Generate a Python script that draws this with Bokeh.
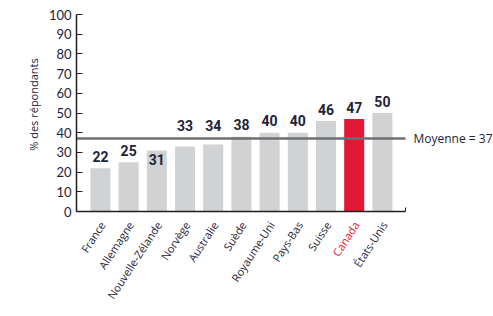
import math
from bokeh.plotting import figure
from bokeh.models import ColumnDataSource, LabelSet, Label, FixedTicker, LinearAxis
from bokeh.core.properties import value
from bokeh.embed import file_html
from bokeh.resources import INLINE

# Share of respondents by country
countries = ["France", "Allemagne", "Nouvelle-Zélande", "Norvège", "Australie",
             "Suède", "Royaume-Uni", "Pays-Bas", "Suisse", "Canada", "États-Unis"]
percent = [22, 25, 31, 33, 34, 38, 40, 40, 46, 47, 50]
highlight = "Canada"
mean_value = 37
y_ticks = [0, 10, 20, 30, 40, 50, 60, 70, 80, 90, 100]

GREY = "#d1d2d4"
RED = "#e31837"
INK = "#1f2337"
LINE = "#6d6e71"
AXIS = "#231f20"

# Canvas layout (pixels) — the frame fills the whole canvas so that the
# rotated country names and side notes can sit outside the axes.
W, H = 493, 316
LEFT_PX, RIGHT_PX, ZERO_PX, TOP_PX = 76, 405, 211, 14
x_lo, x_hi = -0.85, len(countries) - 1 + 0.82          # extent of the x axis
sx = (RIGHT_PX - LEFT_PX) / (x_hi - x_lo)
sy = (ZERO_PX - TOP_PX) / 100.0
x_range = (x_lo - LEFT_PX / sx, x_hi + (W - RIGHT_PX) / sx)
y_range = (-(H - ZERO_PX) / sy, 100 + TOP_PX / sy)

xs = list(range(len(countries)))
bar_colors = [RED if c == highlight else GREY for c in countries]
label_colors = [RED if c == highlight else INK for c in countries]

# Value labels: placed above the bar, but kept clear of the mean line
label_y = []
for v in percent:
    centre = v + 6
    if abs(centre - mean_value) < 4.5:
        centre = v - 4.6 if v < mean_value - 5 else mean_value + 6.6
    label_y.append(centre)

src = ColumnDataSource(dict(x=xs, top=percent, color=bar_colors, cat=countries,
                            lcolor=label_colors, ly=label_y,
                            txt=[str(v) for v in percent]))

p = figure(width=W, height=H, output_backend="svg", toolbar_location=None,
           x_range=x_range, y_range=y_range, min_border=0,
           x_axis_location=None, y_axis_location=None)
p.outline_line_color = None
p.grid.visible = False
p.background_fill_color = "white"

p.vbar(x="x", top="top", width=0.71, source=src, fill_color="color", line_color=None)

# Mean line across the plotting area
p.segment(x0=[x_lo], x1=[x_hi], y0=[mean_value], y1=[mean_value],
          line_color=LINE, line_width=2.5)
p.add_layout(Label(x=x_hi, y=mean_value, x_offset=8, text=f"Moyenne = {mean_value}",
                   text_baseline="middle", text_font="Open Sans", text_font_size="12px",
                   text_color=INK))

p.add_layout(LabelSet(x="x", y="ly", text="txt", source=src, text_align="center",
                      text_baseline="middle", text_color=INK, text_font_style="bold",
                      text_font=value("Roboto"), text_font_size="14px"))

p.add_layout(LabelSet(x="x", y=0, text="cat", source=src, text_align="right",
                      text_baseline="middle", text_color="lcolor", angle=math.radians(57),
                      x_offset=2, y_offset=-11, text_font=value("Open Sans"),
                      text_font_size="11px"))

# Y axis title
p.add_layout(Label(x=x_lo - (LEFT_PX - 33) / sx, y=(ZERO_PX - 104) / sy,
                   text="% des répondants", angle=math.pi / 2, text_align="center",
                   text_baseline="middle", text_font="Open Sans", text_font_size="11px",
                   text_color=INK))

yax = LinearAxis(fixed_location=x_lo, bounds=(0, 100), ticker=FixedTicker(ticks=y_ticks))
yax.major_label_text_font = "Lato"
yax.major_label_text_font_size = "13px"
yax.major_label_text_color = INK
yax.major_label_standoff = 5
yax.major_tick_in = 6
yax.major_tick_out = 0
yax.minor_tick_line_color = None
yax.axis_line_color = AXIS
yax.major_tick_line_color = AXIS
yax.axis_line_width = 1.5
p.add_layout(yax, "left")

xax = LinearAxis(fixed_location=0, bounds=(x_lo, x_hi), ticker=FixedTicker(ticks=[x_hi]))
xax.major_label_text_font_size = "0px"
xax.major_label_text_color = None
xax.major_tick_in = 4
xax.major_tick_out = 0
xax.minor_tick_line_color = None
xax.axis_line_color = AXIS
xax.major_tick_line_color = AXIS
xax.axis_line_width = 1.5
p.add_layout(xax, "below")

open("out.html", "w").write(file_html(p, INLINE))
